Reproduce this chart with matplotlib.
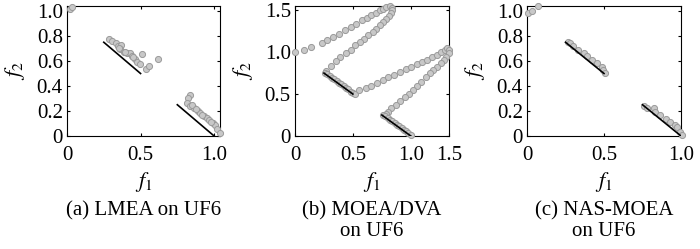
import numpy as np
import matplotlib
matplotlib.use("Agg")
import matplotlib.pyplot as plt

plt.rcParams['font.family'] = ['Liberation Serif', 'DejaVu Serif']
plt.rcParams['mathtext.fontset'] = 'stix'

# true Pareto front segments of UF6
pf_seg1_f1 = [0.25, 0.5]
pf_seg1_f2 = [0.75, 0.5]
pf_seg2_f1 = [0.75, 1.0]
pf_seg2_f2 = [0.25, 0.0]

# (a) LMEA
lmea_f1 = [0.023, 0.035,
           0.285, 0.308, 0.331, 0.347, 0.370, 0.359, 0.386, 0.405, 0.428, 0.439,
           0.462, 0.478, 0.497, 0.508, 0.538, 0.554, 0.616, 0.352, 0.395, 0.450,
           0.837, 0.823, 0.814, 0.837, 0.860, 0.888, 0.906, 0.933, 0.952, 0.968,
           0.991, 1.007, 1.021, 1.037, 0.850, 0.875, 0.920, 0.980]
lmea_f2 = [1.02, 1.03,
           0.774, 0.763, 0.741, 0.720, 0.728, 0.693, 0.675, 0.661, 0.667, 0.640,
           0.613, 0.595, 0.573, 0.656, 0.533, 0.560, 0.613, 0.705, 0.670, 0.630,
           0.325, 0.301, 0.267, 0.240, 0.221, 0.203, 0.181, 0.160, 0.141, 0.128,
           0.107, 0.088, 0.053, 0.027, 0.250, 0.215, 0.170, 0.110]

# (b) MOEA/DVA
dva_f1 = [0.0, 0.08, 0.14, 0.23, 0.28, 0.33, 0.38, 0.43, 0.48, 0.53, 0.58, 0.62,
          0.66, 0.70, 0.73, 0.76, 0.79, 0.82,
          0.84, 0.84, 0.83, 0.81, 0.79, 0.76, 0.73, 0.70, 0.67, 0.63, 0.60, 0.56,
          0.52, 0.48, 0.44, 0.39, 0.35, 0.31, 0.27,
          0.26, 0.28, 0.30, 0.32, 0.34, 0.36, 0.38, 0.40, 0.42, 0.44, 0.46, 0.48, 0.50,
          0.52, 0.555, 0.61, 0.66, 0.71, 0.756, 0.805, 0.853, 0.905, 0.957, 1.006,
          1.055, 1.10, 1.144, 1.187, 1.224, 1.264, 1.293, 1.313,
          1.33, 1.328, 1.307, 1.284, 1.259, 1.227, 1.193, 1.164, 1.13, 1.092, 1.057,
          1.02, 0.986, 0.948, 0.905, 0.87, 0.833, 0.805, 0.784,
          0.76, 0.78, 0.80, 0.82, 0.84, 0.86, 0.88, 0.90, 0.92, 0.94, 0.96, 0.98, 1.0]
dva_f2 = [1.0, 1.03, 1.06, 1.11, 1.14, 1.18, 1.22, 1.26, 1.30, 1.34, 1.38, 1.41,
          1.44, 1.47, 1.50, 1.52, 1.54, 1.55,
          1.53, 1.50, 1.47, 1.43, 1.40, 1.36, 1.32, 1.28, 1.24, 1.20, 1.16, 1.12,
          1.08, 1.03, 0.99, 0.94, 0.89, 0.83, 0.77,
          0.755, 0.735, 0.715, 0.695, 0.675, 0.655, 0.635, 0.615, 0.595, 0.575, 0.555, 0.53, 0.51,
          0.50, 0.548, 0.57, 0.595, 0.63, 0.667, 0.70, 0.726, 0.766, 0.80, 0.825,
          0.857, 0.88, 0.905, 0.937, 0.964, 1.004, 1.03, 1.05,
          1.03, 0.99, 0.944, 0.905, 0.865, 0.825, 0.786, 0.746, 0.70, 0.647, 0.595,
          0.548, 0.50, 0.46, 0.42, 0.37, 0.33, 0.29, 0.258,
          0.255, 0.235, 0.215, 0.195, 0.175, 0.155, 0.135, 0.115, 0.095, 0.075, 0.055, 0.035, 0.01]

# (c) NAS-MOEA
nas_f1 = [0.005, 0.034, 0.071,
          0.267, 0.282, 0.300, 0.332, 0.371, 0.387, 0.420, 0.452, 0.485, 0.496, 0.507,
          0.757, 0.779, 0.822, 0.833, 0.866, 0.903, 0.931, 0.958, 0.971, 0.992, 1.008]
nas_f2 = [0.981, 1.0, 1.04,
          0.755, 0.741, 0.720, 0.688, 0.661, 0.640, 0.608, 0.581, 0.549, 0.525, 0.507,
          0.240, 0.221, 0.221, 0.195, 0.168, 0.133, 0.115, 0.088, 0.075, 0.035, 0.008]

captions = ['(a) LMEA on UF6', '(b) MOEA/DVA\non UF6', '(c) NAS-MOEA\non UF6']

fig = plt.figure(figsize=(7, 2.49), dpi=100)
W, H = 700, 249
boxes = [(67, 6, 153, 130), (295, 6, 154, 130), (527, 6, 154, 130)]
axes = [fig.add_axes([x / W, (H - y - h) / H, w / W, h / H]) for x, y, w, h in boxes]

data = [(lmea_f1, lmea_f2), (dva_f1, dva_f2), (nas_f1, nas_f2)]
xlims = [(0, 1.04), (0, 1.33), (0, 1.0)]
ylims = [(0, 1.04), (0, 1.55), (0, 1.04)]

for i, ax in enumerate(axes):
    f1, f2 = data[i]
    ax.plot(f1, f2, 'o', ms=4.4, mfc='#c8c8c8', mec='#9a9a9a', mew=0.7,
            clip_on=False, zorder=3)
    ax.plot(pf_seg1_f1, pf_seg1_f2, 'k-', lw=1.2, zorder=4)
    ax.plot(pf_seg2_f1, pf_seg2_f2, 'k-', lw=1.2, zorder=4)
    ax.set_xlim(*xlims[i])
    ax.set_ylim(*ylims[i])
    ax.tick_params(direction='in', length=2.5, width=0.8, top=True, right=True,
                   labelsize=15)
    ax.tick_params(axis='x', pad=7)
    ax.tick_params(axis='y', pad=3)
    for s in ax.spines.values():
        s.set_linewidth(0.8)
    ax.set_xlabel('$f_1$', fontsize=16, labelpad=4)
    ax.set_ylabel('$f_2$', fontsize=16, labelpad=7)

for ax in (axes[0], axes[2]):
    ax.set_xticks([0, 0.5, 1.0])
    ax.set_xticklabels(['0', '0.5', '1.0'])
    ax.set_yticks([0, 0.2, 0.4, 0.6, 0.8, 1.0])
    ax.set_yticklabels(['0', '0.2', '0.4', '0.6', '0.8', '1.0'])

axes[1].set_xticks([0, 0.5, 1.0, 1.33])
axes[1].set_xticklabels(['0', '0.5', '1.0', '1.5'])
axes[1].set_yticks([0, 0.5, 1.0, 1.5])
axes[1].set_yticklabels(['0', '0.5', '1.0', '1.5'])

for (x, y, w, h), cap in zip(boxes, captions):
    fig.text((x + w / 2) / W, 1 - 201 / H, cap, ha='center', va='top',
             fontsize=15, linespacing=1.15)

fig.savefig('out.png', dpi=100)
